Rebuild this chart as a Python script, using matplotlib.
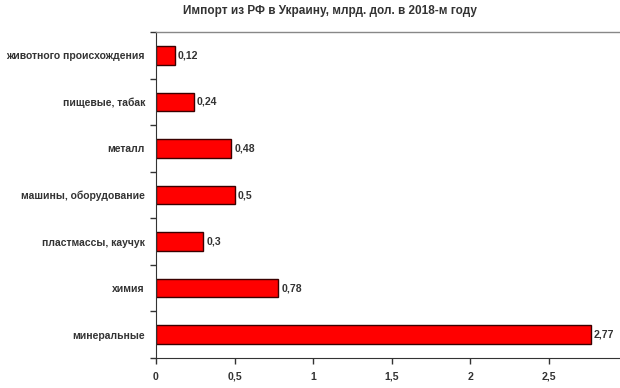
import matplotlib.pyplot as plt
from matplotlib.ticker import FixedLocator

# import from RF to Ukraine, bln USD, 2018
categories = ['животного происхождения', 'пищевые, табак', 'металл',
              'машины, оборудование', 'пластмассы, каучук', 'химия', 'минеральные']
values = [0.12, 0.24, 0.48, 0.5, 0.3, 0.78, 2.77]
value_labels = ['0,12', '0,24', '0,48', '0,5', '0,3', '0,78', '2,77']
xticks = [0, 0.5, 1, 1.5, 2, 2.5]
xtick_labels = ['0', '0,5', '1', '1,5', '2', '2,5']

plt.rcParams['font.family'] = ['Liberation Sans', 'DejaVu Sans']

fig = plt.figure(figsize=(6.2, 3.88), dpi=100)
ax = fig.add_axes([156 / 620, 30 / 388, 1 - 156 / 620, 326 / 388])

pos = list(range(len(categories)))
ax.barh(pos, values, height=0.4, color='#ff0000', edgecolor='#3a0000', linewidth=1)
for p, v, lab in zip(pos, values, value_labels):
    ax.text(v + 0.02, p, lab, va='center', ha='left', fontsize=7.6, fontweight='bold', color='#333333')

ax.set_ylim(len(categories) - 0.5, -0.5)
ax.set_xlim(0, 2.955)
ax.set_yticks(pos)
ax.set_yticklabels(categories, fontsize=7.5, fontweight='bold', color='#333333')
ax.yaxis.set_minor_locator(FixedLocator([p + 0.5 for p in range(-1, len(categories))]))
ax.tick_params(axis='y', which='major', length=0, pad=8)
ax.tick_params(axis='y', which='minor', length=4, width=1, color='#333333', direction='out')
ax.set_xticks(xticks)
ax.set_xticklabels(xtick_labels, fontsize=7.6, fontweight='bold', color='#333333')
ax.tick_params(axis='x', length=4, width=1, color='#333333', direction='out', pad=6)

ax.spines['right'].set_visible(False)
ax.spines['top'].set_color('#888888')
ax.spines['top'].set_linewidth(1)
ax.spines['left'].set_color('#333333')
ax.spines['bottom'].set_color('#333333')

fig.text(330 / 620, 1 - 11 / 388, 'Импорт из РФ в Украину, млрд. дол. в 2018-м году',
         ha='center', va='center', fontsize=8.5, fontweight='bold', color='#333333')

fig.savefig('out.png', dpi=100)
